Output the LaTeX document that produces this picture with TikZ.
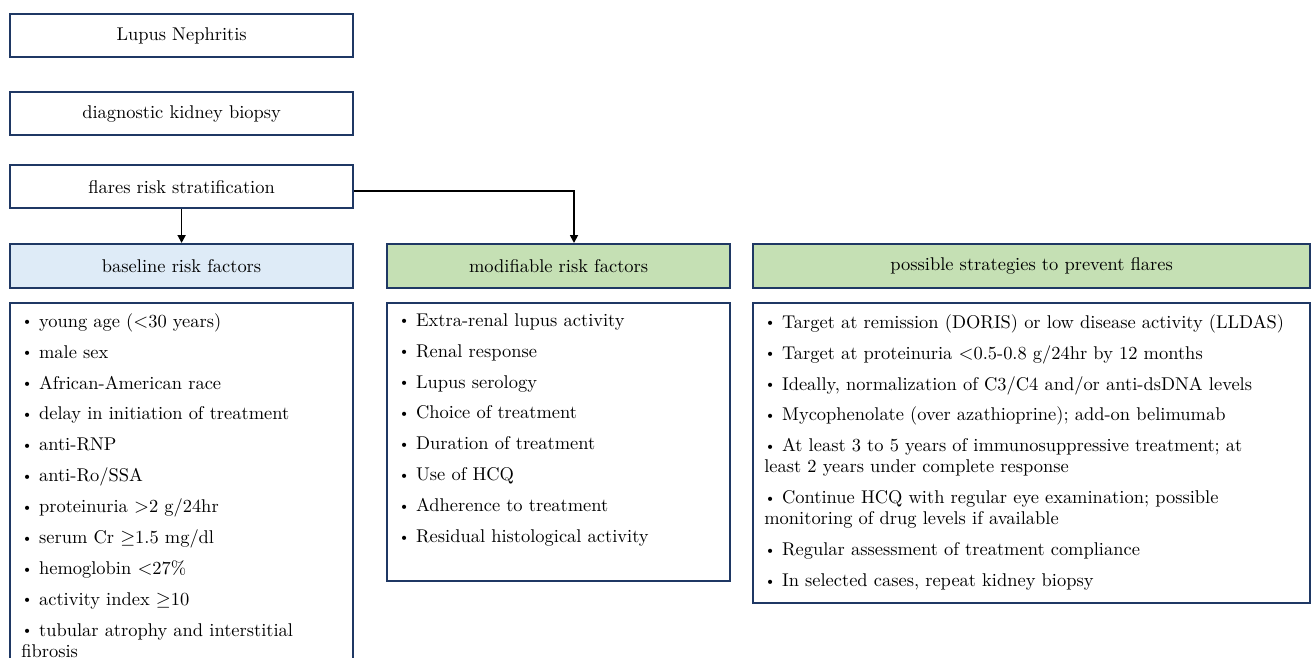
\documentclass[tikz,border=0pt]{standalone}
\usepackage{tikz}
\usetikzlibrary{calc,positioning,arrows.meta}
\usepackage{amsmath,amssymb}
\usepackage{xcolor}
\definecolor{navyline}{HTML}{1F3864}
\definecolor{basefill}{HTML}{DEEBF7}
\definecolor{modfill}{HTML}{C5E0B4}
\newcommand{\bul}{\raisebox{0.9pt}{\footnotesize\textbullet}\ }
\newcommand{\nxt}{\\[5.6pt]}
\tikzset{frame/.style={draw=navyline, line width=1.3pt, inner sep=0pt}}

\begin{document}
\begin{tikzpicture}[
  x=0.02cm,y=-0.02cm,
  font=\fontsize{10.5}{12}\selectfont,
  arr/.style={line width=1pt, -{Triangle[length=4.5pt,width=4.5pt]}},
  stepbox/.style={frame, fill=white, minimum width=6.86cm, minimum height=0.86cm, anchor=north west},
  head/.style={frame, minimum height=0.88cm, anchor=north west},
  listbox/.style={frame, fill=white, anchor=north west},
  listtext/.style={anchor=north west, inner sep=0pt, align=left}
]
  \useasboundingbox (0,0) rectangle (1311,657);
  \clip (0,0) rectangle (1311,657);

  % top column
  \node[stepbox] (ln) at (9,13) {Lupus Nephritis};
  \node[stepbox] (kb) at (9,91) {diagnostic kidney biopsy};
  \node[stepbox] (flr) at (9,164) {flares risk stratification};

  % headers
  \node[head, fill=basefill, minimum width=6.86cm] (hbase) at (9,243) {baseline risk factors};
  \node[head, fill=modfill, minimum width=6.86cm] (hmod) at (386,243) {modifiable risk factors};
  \node[head, fill=modfill, minimum width=11.14cm] (hstr) at (752,243) {possible strategies to prevent flares};

  % list frames
  \node[listbox, minimum width=6.86cm, minimum height=7.6cm] (lbase) at (9,302) {};
  \node[listbox, minimum width=6.86cm, minimum height=5.56cm] (lmod) at (386,302) {};
  \node[listbox, minimum width=11.14cm, minimum height=6.0cm] (lstr) at (752,302) {};

  \node[listtext] (tbase) at ($(lbase.north west)+(12,11)$) {%
    \bul young age ($<$30 years)\nxt
    \bul male sex\nxt
    \bul African-American race\nxt
    \bul delay in initiation of treatment\nxt
    \bul anti-RNP\nxt
    \bul anti-Ro/SSA\nxt
    \bul proteinuria $>$2 g/24hr\nxt
    \bul serum Cr $\geq$1.5 mg/dl\nxt
    \bul hemoglobin $<$27\%\nxt
    \bul activity index $\geq$10\nxt
    \bul tubular atrophy and interstitial\\
    fibrosis};

  \node[listtext] (tmod) at ($(lmod.north west)+(12,11)$) {%
    \bul Extra-renal lupus activity\nxt
    \bul Renal response\nxt
    \bul Lupus serology\nxt
    \bul Choice of treatment\nxt
    \bul Duration of treatment\nxt
    \bul Use of HCQ\nxt
    \bul Adherence to treatment\nxt
    \bul Residual histological activity};

  \node[listtext] (tstr) at ($(lstr.north west)+(12,12)$) {%
    \bul Target at remission (DORIS) or low disease activity (LLDAS)\nxt
    \bul Target at proteinuria $<$0.5-0.8 g/24hr by 12 months\nxt
    \bul Ideally, normalization of C3/C4 and/or anti-dsDNA levels\nxt
    \bul Mycophenolate (over azathioprine); add-on belimumab\nxt
    \bul At least 3 to 5 years of immunosuppressive treatment; at\\
    least 2 years under complete response\nxt
    \bul Continue HCQ with regular eye examination; possible\\
    monitoring of drug levels if available\nxt
    \bul Regular assessment of treatment compliance\nxt
    \bul In selected cases, repeat kidney biopsy};

  % connectors
  \coordinate (turn) at (574,191);
  \draw[arr] (flr.south) -- (hbase.north);
  \draw[arr] (flr.east |- turn) -| (hmod.north -| turn);
\end{tikzpicture}
\end{document}
